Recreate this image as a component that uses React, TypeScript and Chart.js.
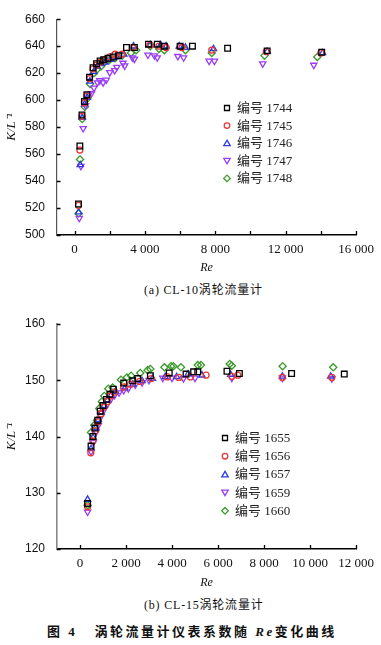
import React, { useEffect, useRef } from "react";
import { Chart, registerables } from "chart.js";
Chart.register(...registerables);

// ---------- Chart (a) CL-10 ----------
const A_X_TICKS = [0, 2000, 4000, 6000, 8000, 10000, 12000, 14000, 16000];
const A_X_LABELS = ["0", "", "4 000", "", "8 000", "", "12 000", "", "16 000"];
const A_Y_TICKS = [500, 520, 540, 560, 580, 600, 620, 640, 660];
const A_Y_LABELS = ["500", "520", "540", "560", "580", "600", "620", "640", "660"];

const A_NAMES = ["编号 1744", "编号 1745", "编号 1746", "编号 1747", "编号 1748"];

const re1744 = [220, 300, 420, 560, 700, 850, 1050, 1250, 1450, 1650, 1900, 2200, 2500, 2950, 3400, 4200, 4700, 5100, 6000, 6700, 8700, 10950, 14050];
const k1744 = [523, 566, 589, 599, 604, 617, 624, 627, 629, 630, 631, 632, 633, 639, 639, 641.5, 641.5, 640, 640, 640, 638.5, 636.5, 635.5];

const re1745 = [220, 300, 420, 560, 700, 850, 1050, 1250, 1450, 1700, 2000, 2300, 2700, 3300, 4300, 4800, 5200, 6100, 7800, 10900, 14000];
const k1745 = [522, 563, 588, 598, 603, 616, 623, 626, 628, 630, 632, 634, 634, 639, 641, 640, 639, 639, 637, 636, 635];

const re1746 = [230, 320, 430, 570, 720, 870, 1080, 1280, 1500, 1750, 2050, 2400, 2800, 3350, 4300, 4900, 5200, 5950, 6300, 7900, 10950, 14100];
const k1746 = [517, 552, 587, 597, 602, 614, 621, 625, 627, 628, 630, 632, 634, 640, 641, 641, 640, 640, 639, 638, 636, 635];

const re1747 = [265, 360, 490, 620, 800, 960, 1100, 1300, 1430, 1620, 1800, 2000, 2280, 2400, 2750, 2850, 3280, 3400, 4170, 4540, 4700, 5870, 6200, 7650, 7950, 10700, 13600];
const k1747 = [512.5, 551, 579, 596, 604, 605, 609, 613, 614.5, 613, 615, 620.5, 622, 624.5, 627.5, 625.5, 631.5, 630.5, 633.5, 633, 631.5, 632.5, 631.5, 629, 629, 627, 626];

const re1748 = [230, 310, 430, 580, 720, 880, 1100, 1300, 1500, 1700, 2000, 2300, 2700, 3200, 3500, 4300, 4800, 5100, 6300, 7800, 10800, 13800];
const k1748 = [516, 556, 586, 595, 601, 612, 620, 623, 625, 628, 630, 631, 633, 635, 637, 640, 638, 637, 637, 635, 633, 632];

// ---------- Chart (b) CL-15 ----------
const B_X_TICKS = [0, 2000, 4000, 6000, 8000, 10000, 12000];
const B_X_LABELS = ["0", "2 000", "4 000", "6 000", "8 000", "10 000", "12 000"];
const B_Y_TICKS = [120, 130, 140, 150, 160];
const B_Y_LABELS = ["120", "130", "140", "150", "160"];

const B_NAMES = ["编号 1655", "编号 1656", "编号 1657", "编号 1659", "编号 1660"];

const re1655 = [330, 480, 560, 650, 770, 880, 1000, 1150, 1300, 1450, 1900, 2290, 2510, 3060, 3880, 4610, 4940, 5120, 6390, 6930, 9200, 11490];
const k1655 = [128.1, 138.3, 140.0, 141.5, 142.9, 144.5, 145.5, 146.6, 147.5, 148.4, 149.5, 149.9, 150.3, 150.8, 151.3, 151.1, 151.5, 151.5, 151.6, 151.2, 151.2, 151.1];

const re1656 = [330, 470, 560, 660, 780, 900, 1020, 1180, 1330, 1500, 1900, 2200, 2600, 3100, 3800, 4300, 4800, 5480, 6600, 6860, 8800, 10950];
const k1656 = [127.5, 137.1, 139.2, 141.0, 142.6, 144.0, 145.2, 146.2, 147.2, 147.9, 148.8, 149.3, 149.8, 150.3, 150.6, 150.5, 150.6, 150.9, 150.7, 150.9, 150.5, 150.5];

const re1657 = [330, 480, 570, 680, 800, 920, 1050, 1200, 1350, 1550, 1950, 2300, 2700, 3150, 3700, 4200, 4700, 5300, 6550, 8800, 10900];
const k1657 = [128.8, 137.8, 139.8, 141.6, 143.0, 144.3, 145.5, 146.5, 147.3, 148.0, 148.6, 149.3, 149.9, 150.3, 150.6, 150.6, 151.1, 150.9, 151.0, 150.7, 150.7];

const re1659 = [330, 480, 580, 700, 800, 920, 1050, 1200, 1350, 1500, 1700, 1900, 2100, 2400, 2700, 3000, 3600, 4000, 4500, 5000, 6600, 8800, 10950];
const k1659 = [126.6, 137.3, 139.0, 140.8, 142.0, 143.6, 144.8, 145.8, 146.7, 147.3, 147.8, 148.2, 148.5, 149.2, 149.6, 150.0, 150.4, 150.4, 150.3, 150.4, 150.4, 150.4, 150.3];

const re1660 = [330, 478, 620, 740, 840, 950, 1057, 1230, 1420, 1780, 2040, 2220, 2620, 2940, 3060, 3670, 3960, 4060, 4390, 5120, 5260, 6510, 6600, 8810, 11010];
const k1660 = [127.8, 140.7, 142.0, 142.9, 145.0, 146.2, 147.2, 148.5, 148.7, 150.1, 150.5, 150.8, 151.3, 151.8, 152.0, 152.3, 152.5, 152.5, 152.3, 152.7, 152.7, 152.9, 152.6, 152.5, 152.3];

// ---------- styles ----------
const MARKERS = [
  { style: "rect", color: "#000000", radius: 4, rotation: 0 },
  { style: "circle", color: "#e8383a", radius: 3, rotation: 0 },
  { style: "triangle", color: "#2b3be0", radius: 3.6, rotation: 0 },
  { style: "triangle", color: "#9a3cf5", radius: 3.6, rotation: 180 },
  { style: "rectRot", color: "#3a9a2a", radius: 3.6, rotation: 0 },
];

function drawMarker(ctx: CanvasRenderingContext2D, kind: number, x: number, y: number) {
  const m = MARKERS[kind];
  ctx.save();
  ctx.strokeStyle = m.color;
  ctx.lineWidth = 1.3;
  ctx.beginPath();
  if (kind === 0) {
    ctx.rect(x - 2.5, y - 2.5, 5, 5);
  } else if (kind === 1) {
    ctx.arc(x, y, 2.8, 0, Math.PI * 2);
  } else if (kind === 2) {
    ctx.moveTo(x, y - 3);
    ctx.lineTo(x + 3.2, y + 2.4);
    ctx.lineTo(x - 3.2, y + 2.4);
    ctx.closePath();
  } else if (kind === 3) {
    ctx.moveTo(x, y + 3);
    ctx.lineTo(x + 3.2, y - 2.4);
    ctx.lineTo(x - 3.2, y - 2.4);
    ctx.closePath();
  } else {
    ctx.moveTo(x, y - 3.3);
    ctx.lineTo(x + 3.3, y);
    ctx.lineTo(x, y + 3.3);
    ctx.lineTo(x - 3.3, y);
    ctx.closePath();
  }
  ctx.stroke();
  ctx.restore();
}

type Cfg = {
  height: number;
  padTop: number;
  plotBottom: number;
  xMin: number;
  xMax: number;
  yMin: number;
  yMax: number;
  xTicks: number[];
  xLabels: string[];
  yTicks: number[];
  yLabels: string[];
  yAxisColor: string;
  yAxisWidth: number;
  names: string[];
  series: [number[], number[]][];
  legendX: number;
  legendY: number;
  legendDy: number;
};

function ScatterPanel({ cfg }: { cfg: Cfg }) {
  const ref = useRef<HTMLCanvasElement | null>(null);
  useEffect(() => {
    if (!ref.current) return;
    const datasets = cfg.series.map(([re, k], i) => ({
      label: cfg.names[i],
      data: re.map((x, j) => ({ x, y: k[j] })),
      pointStyle: MARKERS[i].style as any,
      pointRadius: MARKERS[i].radius,
      pointRotation: MARKERS[i].rotation,
      pointBorderWidth: 1.3,
      borderColor: MARKERS[i].color,
      backgroundColor: "rgba(0,0,0,0)",
      showLine: false,
    }));

    const tickPlugin = {
      id: "innerTicks",
      afterDraw(chart: any) {
        const { ctx, chartArea, scales } = chart;
        ctx.save();
        ctx.strokeStyle = "#000";
        ctx.lineWidth = 1.3;
        ctx.beginPath();
        cfg.xTicks.forEach((v) => {
          const px = Math.round(scales.x.getPixelForValue(v)) + 0.5;
          ctx.moveTo(px, chartArea.bottom);
          ctx.lineTo(px, chartArea.bottom - 4);
        });
        cfg.yTicks.forEach((v) => {
          const py = Math.round(scales.y.getPixelForValue(v)) + 0.5;
          ctx.moveTo(chartArea.left, py);
          ctx.lineTo(chartArea.left + 3.5, py);
        });
        ctx.stroke();
        ctx.restore();
      },
    };

    const legendPlugin = {
      id: "innerLegend",
      afterDraw(chart: any) {
        const { ctx } = chart;
        ctx.save();
        ctx.font = "13px 'Liberation Serif', 'Noto Sans CJK SC', serif";
        ctx.fillStyle = "#222";
        ctx.textBaseline = "middle";
        ctx.textAlign = "left";
        cfg.names.forEach((name, i) => {
          const y = cfg.legendY + i * cfg.legendDy;
          drawMarker(ctx, i, cfg.legendX, y);
          ctx.fillText(name, cfg.legendX + 10, y + 0.5);
        });
        ctx.restore();
      },
    };

    const chart = new Chart(ref.current, {
      type: "scatter",
      data: { datasets },
      options: {
        animation: false,
        responsive: true,
        maintainAspectRatio: false,
        layout: { padding: { top: cfg.padTop, right: 25, left: 0, bottom: 0 } },
        plugins: { legend: { display: false }, tooltip: { enabled: false } },
        scales: {
          x: {
            type: "linear",
            min: cfg.xMin,
            max: cfg.xMax,
            grid: { display: false, drawTicks: false },
            border: { display: true, color: "#000", width: 1.6 },
            afterBuildTicks: (scale: any) => {
              scale.ticks = cfg.xTicks.map((v) => ({ value: v }));
            },
            afterFit: (scale: any) => {
              scale.height = cfg.height - cfg.plotBottom;
            },
            ticks: {
              autoSkip: false,
              maxRotation: 0,
              padding: 7,
              color: "#111",
              font: { family: "'Liberation Serif', serif", size: 13 },
              callback: (_v: any, i: number) => cfg.xLabels[i],
            },
            title: {
              display: true,
              text: "Re",
              color: "#111",
              font: { family: "'Liberation Serif', serif", size: 12, style: "italic" },
              padding: { top: 0, bottom: 5 },
            },
          },
          y: {
            type: "linear",
            min: cfg.yMin,
            max: cfg.yMax,
            grid: { display: false, drawTicks: false },
            border: { display: true, color: cfg.yAxisColor, width: cfg.yAxisWidth },
            afterBuildTicks: (scale: any) => {
              scale.ticks = cfg.yTicks.map((v) => ({ value: v }));
            },
            afterFit: (scale: any) => {
              scale.width = 57;
            },
            ticks: {
              autoSkip: false,
              padding: 12,
              color: "#111",
              font: { family: "'Liberation Sans', Arial, sans-serif", size: 12 },
              callback: (_v: any, i: number) => cfg.yLabels[i],
            },
            title: {
              display: true,
              text: "K/L\u207B\u00B9",
              color: "#111",
              font: { family: "'Liberation Serif', serif", size: 13, style: "italic" },
              padding: { top: 4, bottom: 0 },
            },
          },
        },
      },
      plugins: [tickPlugin, legendPlugin],
    });
    return () => chart.destroy();
  }, [cfg]);
  return (
    <div style={{ position: "relative", width: 381, height: cfg.height }}>
      <canvas ref={ref} />
    </div>
  );
}

const CFG_A: Cfg = {
  height: 280,
  padTop: 14,
  plotBottom: 235,
  xMin: -1000,
  xMax: 16000,
  yMin: 500,
  yMax: 660,
  xTicks: A_X_TICKS,
  xLabels: A_X_LABELS,
  yTicks: A_Y_TICKS,
  yLabels: A_Y_LABELS,
  yAxisColor: "#555",
  yAxisWidth: 1.2,
  names: A_NAMES,
  series: [
    [re1744, k1744],
    [re1745, k1745],
    [re1746, k1746],
    [re1747, k1747],
    [re1748, k1748],
  ],
  legendX: 227,
  legendY: 108,
  legendDy: 17.6,
};

const CFG_B: Cfg = {
  height: 295,
  padTop: 24,
  plotBottom: 249,
  xMin: -1000,
  xMax: 12000,
  yMin: 120,
  yMax: 160,
  xTicks: B_X_TICKS,
  xLabels: B_X_LABELS,
  yTicks: B_Y_TICKS,
  yLabels: B_Y_LABELS,
  yAxisColor: "#888",
  yAxisWidth: 1.6,
  names: B_NAMES,
  series: [
    [re1655, k1655],
    [re1656, k1656],
    [re1657, k1657],
    [re1659, k1659],
    [re1660, k1660],
  ],
  legendX: 225,
  legendY: 138,
  legendDy: 18.2,
};

const capStyle: React.CSSProperties = {
  position: "absolute",
  fontFamily: "'Liberation Serif', 'Noto Sans CJK SC', serif",
  fontSize: 12,
  color: "#111",
  whiteSpace: "nowrap",
  lineHeight: "14px",
};

export default function App() {
  return (
    <div
      style={{
        position: "absolute",
        left: 0,
        top: 0,
        width: 381,
        height: 645,
        background: "#fff",
        overflow: "hidden",
      }}
    >
      <div style={{ position: "absolute", left: 0, top: 0 }}>
        <ScatterPanel cfg={CFG_A} />
      </div>
      <div style={{ ...capStyle, left: 144, top: 283, letterSpacing: 0.8 }}>(a) CL-10涡轮流量计</div>
      <div style={{ position: "absolute", left: 0, top: 300 }}>
        <ScatterPanel cfg={CFG_B} />
      </div>
      <div style={{ ...capStyle, left: 144, top: 598, letterSpacing: 0.8 }}>(b) CL-15涡轮流量计</div>
      <div
        style={{
          ...capStyle,
          left: 47,
          top: 624,
          fontSize: 13,
          fontWeight: "bold",
          lineHeight: "16px",
          letterSpacing: 2.5,
        }}
      >
        图 4{"\u00A0\u00A0\u00A0"}涡轮流量计仪表系数随 <i>Re</i>变化曲线
      </div>
    </div>
  );
}
